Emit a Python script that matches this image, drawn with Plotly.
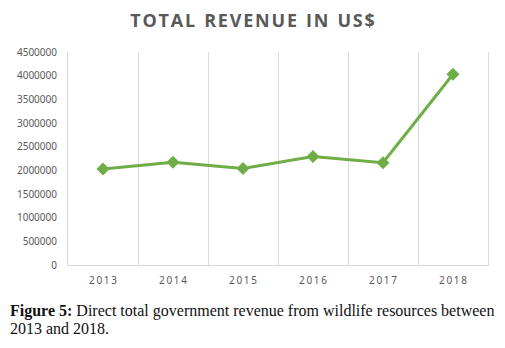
import plotly.graph_objects as go

years = ["2013", "2014", "2015", "2016", "2017", "2018"]
revenue = [2030000, 2170000, 2040000, 2290000, 2160000, 4030000]
y_ticks = [0, 500000, 1000000, 1500000, 2000000, 2500000, 3000000, 3500000, 4000000, 4500000]

x_pos = list(range(len(years)))
x_text = ["\u2009".join(y) for y in years]

fig = go.Figure()
fig.add_trace(go.Scatter(
    x=x_pos, y=revenue, mode="lines+markers",
    line=dict(color="#70AD47", width=3),
    marker=dict(symbol="diamond", size=10, color="#70AD47"),
    showlegend=False,
))

fig.update_layout(
    width=505, height=348,
    margin=dict(l=68, r=17, t=52, b=83),
    paper_bgcolor="white", plot_bgcolor="white",
    title=dict(
        text="<b>T O T A L   R E V E N U E   I N   U S $</b>".replace(" ", "\u200a").replace("\u200a\u200a\u200a", "\u2002"),
        x=0.5, xanchor="center", y=0.94, yanchor="middle",
        font=dict(family="Open Sans", size=18, color="#595959"),
    ),
    xaxis=dict(
        range=[-0.5, len(years) - 0.5],
        tickvals=x_pos, ticktext=x_text,
        showgrid=False, zeroline=False,
        showline=True, linecolor="#d9d9d9", linewidth=1,
        ticks="", ticklabelstandoff=6,
        tickfont=dict(family="Noto Sans", size=10, color="#595959"),
        minor=dict(tick0=-0.5, dtick=1, showgrid=True, gridcolor="#d9d9d9", gridwidth=1),
    ),
    yaxis=dict(
        range=[0, 4500000], tickvals=y_ticks, tickformat="d",
        showgrid=False, zeroline=False,
        showline=True, mirror=True, linecolor="#d9d9d9", linewidth=1,
        ticks="", ticklabelstandoff=8,
        tickfont=dict(family="Noto Sans", size=10, color="#595959"),
    ),
    annotations=[
        dict(
            xref="paper", yref="paper", x=-60/420, y=-(311-265)/213, xanchor="left", yanchor="middle",
            align="left", showarrow=False,
            text="<b>Figure 5:</b> Direct total government revenue from wildlife resources between",
            font=dict(family="Liberation Serif", size=16, color="#111111"),
        ),
        dict(
            xref="paper", yref="paper", x=-60/420, y=-(328-265)/213, xanchor="left", yanchor="middle",
            align="left", showarrow=False,
            text="2013 and 2018.",
            font=dict(family="Liberation Serif", size=16, color="#111111"),
        ),
    ],
)

fig.write_html("out.html", post_script="document.body.style.margin='0';",
               config={"displayModeBar": False})
